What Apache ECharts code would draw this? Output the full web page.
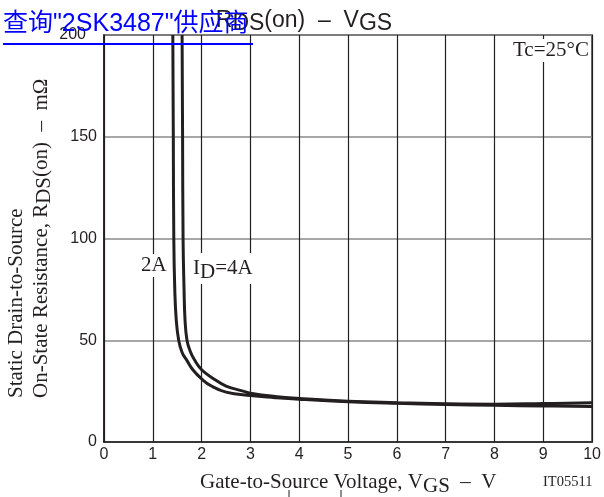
<!DOCTYPE html>
<html><head><meta charset="utf-8">
<script src="https://cdn.jsdelivr.net/npm/echarts@6/dist/echarts.min.js"></script>
<style>html,body{margin:0;padding:0;background:#fff}#c{width:604px;height:497px}</style>
</head><body><div id="c"></div>
<script>
var xTicks = [0,1,2,3,4,5,6,7,8,9,10];
var yTicks = [0,50,100,150,200];
var vgs2A = [1.41,1.42,1.43,1.45,1.48,1.53,1.60,1.70,1.82,2.0,2.2,2.5,3.0,3.5,4.0,5.0,6.0,7.0,8.0,9.0,10.0];
var rds2A = [200,150,100,75,60,50,44,40,35.5,31,27.5,24.5,22.8,21.8,21,19.8,19,18.4,18,17.7,17.4];
var vgs4A = [1.60,1.61,1.62,1.64,1.66,1.70,1.76,1.85,2.0,2.25,2.5,2.85,3.0,3.5,4.0,5.0,6.0,7.0,8.0,9.0,10.0];
var rds4A = [200,150,100,75,60,50,45,40.5,35.5,31,27.5,25,24,22.4,21.4,20,19.3,18.8,18.6,18.9,19.3];

function pairs(xs, ys){ return xs.map(function(x,i){ return [x, ys[i]]; }); }

var serif = "'Liberation Serif','DejaVu Serif',serif";
var sans = "'Liberation Sans','DejaVu Sans',sans-serif";
var ink = '#231f20';
var chart = echarts.init(document.getElementById('c'));
chart.setOption({
  animation:false,
  grid:{left:104,right:8,top:35,bottom:55,show:true,borderColor:ink,borderWidth:1.5,backgroundColor:'transparent'},
  xAxis:{type:'value',min:0,max:10,interval:1,
    axisLine:{show:true,onZero:false,lineStyle:{color:ink,width:1.5}},
    axisTick:{show:false},
    axisLabel:{color:ink,fontFamily:sans,fontSize:16,margin:5},
    splitLine:{show:true,lineStyle:{color:ink,width:1.2}}},
  yAxis:{type:'value',min:0,max:200,interval:50,
    axisLine:{show:true,lineStyle:{color:ink,width:1.5}},
    axisTick:{show:false},
    axisLabel:{color:ink,fontFamily:sans,fontSize:16,margin:7,
      formatter:function(v){ return v===200 ? '{t|200}' : String(v); },
      rich:{t:{fontFamily:sans,fontSize:16,color:ink,padding:[0,11,0,0]}}},
    splitLine:{show:true,lineStyle:{color:'#8a8a8a',width:1.5}}},
  series:[
    {type:'line',name:'2A',data:pairs(vgs2A,rds2A),showSymbol:false,smooth:0.45,clip:true,
     lineStyle:{color:ink,width:3}},
    {type:'line',name:'4A',data:pairs(vgs4A,rds4A),showSymbol:false,smooth:0.45,clip:true,
     lineStyle:{color:ink,width:3}}
  ],
  graphic:[
    {type:'text',left:511,top:39,z:50,style:{text:'Tc=25°C',font:'21px '+serif,fill:ink,backgroundColor:'#fff',padding:[1,2]}},
    {type:'text',left:139,top:254,z:50,style:{text:'2A',font:'21px '+serif,fill:ink,backgroundColor:'#fff',padding:[1,2]}},
    {type:'text',left:191,top:253,z:50,style:{text:'{n|I}{s|D}{n|=4A}',rich:{n:{font:'21px '+serif,fill:ink},s:{font:'21px '+serif,fill:ink,padding:[8,0,0,0]}},backgroundColor:'#fff',padding:[1,2]}},
    {type:'text',x:304,y:21,z:40,style:{text:'{n|R}{s|DS}{n|(on)  –  V}{s|GS}',align:'center',verticalAlign:'middle',rich:{n:{font:'23px '+sans,fill:ink},s:{font:'23px '+sans,fill:ink,padding:[6,0,0,0]}}}},
    {type:'text',left:200,top:472,z:40,style:{text:'{n|Gate-to-Source Voltage, V}{s|GS}{n|  –  V}',rich:{n:{font:'21px '+serif,fill:ink},s:{font:'21px '+serif,fill:ink,padding:[7,0,0,0]}}}},
    {type:'text',left:543,top:475,z:40,style:{text:'IT05511',font:'14.5px '+serif,fill:ink}},
    {type:'text',x:16,y:398,rotation:Math.PI/2,z:40,style:{text:'Static Drain-to-Source',font:'21px '+serif,fill:ink,align:'left',verticalAlign:'middle'}},
    {type:'text',x:41,y:398,rotation:Math.PI/2,z:40,style:{text:'{n|On-State Resistance, R}{s|DS}{n|(on)  –  mΩ}',align:'left',verticalAlign:'middle',rich:{n:{font:'21px '+serif,fill:ink},s:{font:'21px '+serif,fill:ink,padding:[7,0,0,0]}}}},
    {type:'line',z:40,shape:{x1:289,y1:490,x2:289,y2:497},style:{stroke:ink,lineWidth:1}},
    {type:'line',z:40,shape:{x1:341,y1:490,x2:341,y2:497},style:{stroke:ink,lineWidth:1}},
    {type:'text',left:3,top:12,z:60,style:{text:'查询"2SK3487"供应商',font:'25px '+"'Liberation Sans','Noto Sans CJK SC',sans-serif",fill:'#0000ff'}},
    {type:'rect',z:60,shape:{x:3,y:43,width:250,height:2},style:{fill:'#0000ff'}}
  ]
});
</script></body></html>
